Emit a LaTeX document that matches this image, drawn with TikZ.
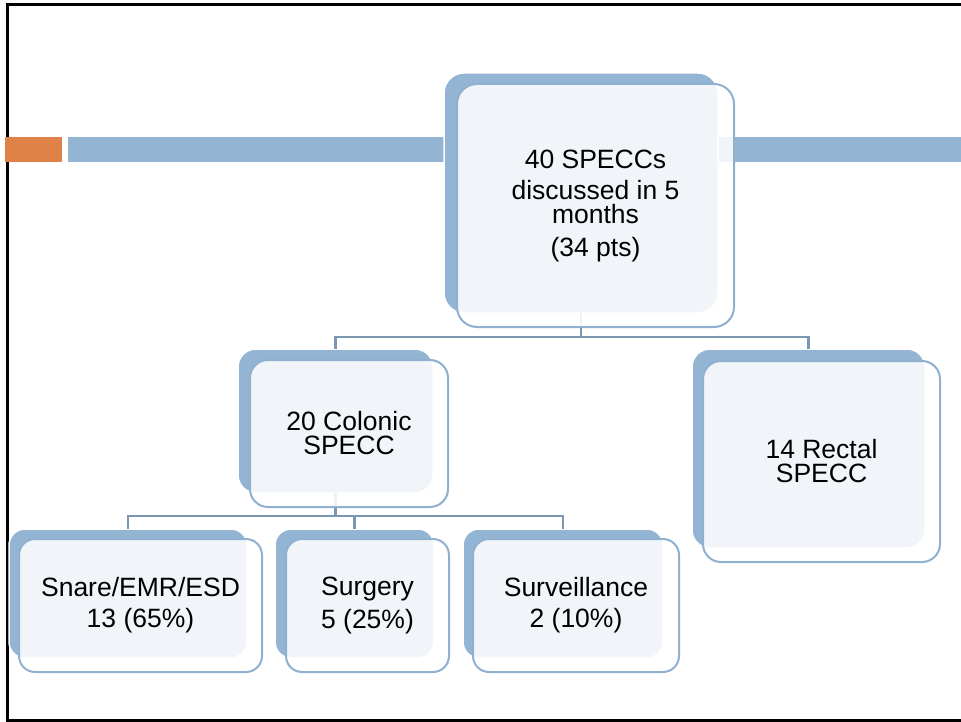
\documentclass[tikz,border=0pt]{standalone}
\usepackage{fontspec}
\setmainfont{Liberation Sans}
\definecolor{boxblue}{HTML}{94B4D3}
\definecolor{boxedge}{HTML}{8FB0CF}
\definecolor{linkcol}{HTML}{7C97B2}
\definecolor{accent}{HTML}{DF8247}
\tikzset{
  backbox/.style={rectangle, rounded corners=#1, fill=boxblue, draw=white,
    line width=1.5pt, inner sep=0pt, outer sep=0pt},
  frontbox/.style={rectangle, rounded corners=#1, fill=white, fill opacity=0.88,
    text opacity=1, draw=boxedge, line width=2pt, inner sep=0pt, outer sep=0pt,
    align=center, font=\fontsize{26.5}{24}\selectfont},
  link/.style={draw=linkcol, line width=2.4pt},
  frameline/.style={draw=black, line width=3pt}
}
\begin{document}
\begin{tikzpicture}[x=1pt, y=-1pt]
\useasboundingbox (0,0) rectangle (961,722);

% slide frame
\draw[frameline] (961,5) -- (7,5) -- (7,720) -- (961,720);

% title banner
\fill[accent] (5,137) rectangle (62,162);
\fill[boxblue] (68,137) rectangle (961,162);

% back (shadow) shapes
\node[backbox=20pt, minimum width=274pt, minimum height=240pt] (topB) at (581,193) {};
\node[backbox=18pt, minimum width=195pt, minimum height=144pt] (colB) at (335.5,421) {};
\node[backbox=18pt, minimum width=233pt, minimum height=199pt] (recB) at (808.5,448.5) {};
\node[backbox=16pt, minimum width=238pt, minimum height=129pt] (snaB) at (128,593.5) {};
\node[backbox=16pt, minimum width=159pt, minimum height=129pt] (surB) at (354.5,593.5) {};
\node[backbox=16pt, minimum width=200pt, minimum height=129pt] (svlB) at (563,593.5) {};

% connectors
\draw[link] (topB.south) -- ++(0,24) -| (colB.north);
\draw[link] (topB.south) -- ++(0,24) -| (recB.north);
\draw[link] (colB.south) -- ++(0,23) -| (snaB.north);
\draw[link] (colB.south) -- ++(0,23) -| (surB.north);
\draw[link] (colB.south) -- ++(0,23) -| (svlB.north);

% front shapes with labels
\node[frontbox=20pt, minimum width=277pt, minimum height=243pt] (top) at (595.5,205.5)
  {40 SPECCs\\[7pt]discussed in 5\\months\\[9pt](34 pts)};
\node[frontbox=18pt, minimum width=198pt, minimum height=147pt] (col) at (349,433.5)
  {20 Colonic\\SPECC};
\node[frontbox=18pt, minimum width=237pt, minimum height=201pt] (rec) at (821.5,461.5)
  {14 Rectal\\SPECC};
\node[frontbox=16pt, minimum width=243pt, minimum height=133pt] (sna) at (140.5,605.5)
  {Snare/EMR/ESD\\[7pt]13 (65\%)};
\node[frontbox=16pt, minimum width=163pt, minimum height=133pt] (sur) at (367.5,605.5)
  {Surgery\\[7pt]5 (25\%)};
\node[frontbox=16pt, minimum width=206pt, minimum height=133pt] (svl) at (576,605.5)
  {Surveillance\\[7pt]2 (10\%)};
\end{tikzpicture}
\end{document}
